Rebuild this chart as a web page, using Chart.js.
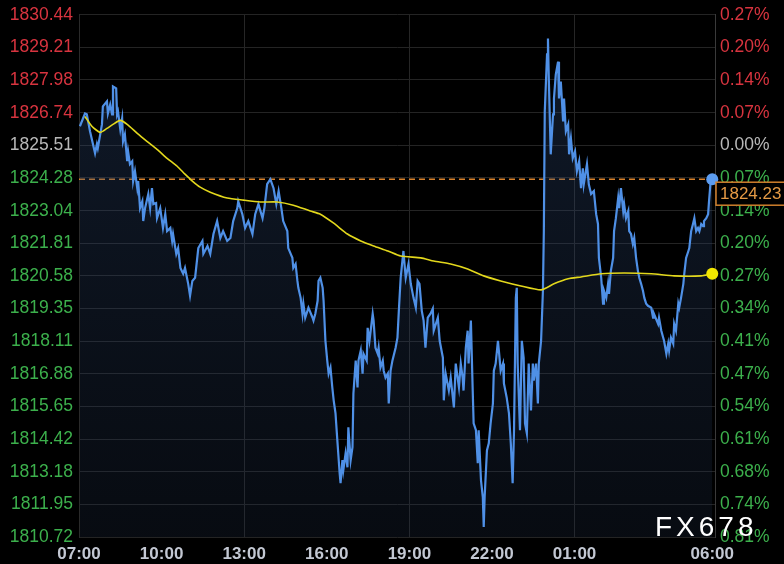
<!DOCTYPE html>
<html>
<head>
<meta charset="utf-8">
<script src="https://cdn.jsdelivr.net/npm/chart.js@4/dist/chart.umd.min.js"></script>
<style>
  html, body { margin: 0; padding: 0; background: #000; }
  canvas { display: block; }
</style>
</head>
<body>
<canvas id="chart" width="784" height="564"></canvas>
<script>
// minutes after 07:00 for each gold quote
const goldTimes = [2,13,17,24,35,39,41,50,52,61,63,68,72,74,81,83,85,90,94,96,100,105,107,111,116,118,122,127,129,133,138,140,144,151,155,159,162,168,170,177,183,188,192,199,203,205,212,216,221,227,231,238,242,247,253,260,269,271,280,286,293,301,308,314,323,330,336,345,347,356,362,369,378,384,391,400,404,410,417,424,430,435,441,445,454,456,465,467,472,476,478,483,487,489,493,500,509,511,515,520,522,526,531,533,537,541,544,548,552,555,559,563,568,570,574,576,581,585,587,592,596,598,603,607,609,614,618,620,627,629,633,640,642,646,651,653,657,662,664,668,673,675,679,683,690,694,697,701,707,712,718,723,729,734,738,742,747,751,755,760,766,771,773,782,786,793,795,799,806,810,817,821,828,832,836,838,843,847,849,854,858,860,865,869,871,876,880,882,884,889,893,897,902,904,908,913,915,919,924,926,932,937,941,945,948,952,954,956,961,965,969,972,976,980,985,989,991,996,1000,1002,1007,1011,1013,1015,1020,1022,1024,1028,1033,1035,1039,1044,1046,1050,1055,1057,1061,1066,1068,1072,1076,1081,1085,1090,1094,1098,1100,1107,1111,1116,1122,1127,1131,1133,1138,1142,1144,1149,1153,1155,1159,1164,1166,1170,1175,1177,1181,1186,1188,1192,1197,1199,1203,1207,1210,1214,1218,1221,1225,1229,1232,1236,1240,1247,1251,1253,1262,1264,1269,1273,1275,1280,1284,1286,1290,1295,1297,1301,1306,1308,1312,1317,1319,1323,1328,1330,1334,1338,1341,1345,1349,1352,1356,1360,1362,1367,1371,1373,1376,1380];
const goldPrices = [1826.23,1826.71,1826.68,1826.04,1825.21,1825.55,1825.40,1826.30,1826.98,1827.17,1826.71,1827.05,1826.68,1827.73,1827.66,1826.68,1826.79,1826.11,1826.53,1825.66,1825.92,1824.91,1825.28,1824.80,1824.91,1824.16,1824.53,1823.89,1824.16,1823.14,1823.40,1822.65,1823.14,1823.67,1823.14,1823.89,1823.29,1823.33,1822.76,1823.14,1822.39,1822.91,1822.27,1822.39,1821.90,1822.16,1821.41,1821.63,1820.88,1820.66,1820.88,1820.28,1819.83,1820.39,1820.51,1821.63,1821.90,1821.41,1821.71,1821.41,1822.16,1822.65,1822.01,1822.27,1821.90,1822.01,1822.65,1823.14,1823.40,1822.91,1822.39,1822.65,1822.16,1822.91,1823.29,1822.76,1823.14,1824.04,1824.23,1823.89,1823.29,1823.78,1823.14,1822.65,1822.27,1821.63,1821.26,1820.88,1821.03,1820.39,1820.13,1819.75,1819.15,1819.53,1819.00,1819.38,1819.00,1818.89,1819.15,1819.64,1820.39,1820.51,1820.13,1819.64,1818.13,1817.38,1816.89,1817.12,1816.37,1815.88,1815.39,1814.37,1813.13,1812.75,1813.62,1813.24,1813.88,1813.35,1814.86,1813.62,1814.11,1816.14,1817.38,1816.37,1817.38,1817.76,1816.89,1817.64,1817.38,1818.62,1818.13,1819.15,1818.89,1817.87,1817.64,1817.87,1817.12,1817.38,1817.00,1816.74,1816.89,1815.76,1817.00,1817.38,1817.87,1818.25,1819.26,1820.51,1821.52,1820.51,1821.03,1820.28,1819.75,1819.38,1820.39,1820.28,1819.26,1818.89,1817.87,1819.00,1819.15,1819.34,1818.51,1819.00,1818.13,1817.49,1815.88,1816.89,1816.25,1816.74,1815.61,1817.27,1816.37,1817.27,1816.74,1816.25,1817.87,1818.51,1817.27,1818.89,1816.25,1815.01,1814.75,1813.51,1814.75,1812.87,1812.23,1811.10,1812.23,1813.99,1814.26,1815.01,1815.76,1817.00,1817.27,1818.13,1817.76,1817.00,1817.27,1816.52,1815.99,1815.39,1814.26,1812.75,1814.75,1819.75,1820.13,1817.27,1814.75,1818.13,1817.49,1815.01,1814.63,1817.27,1815.50,1817.27,1816.63,1817.27,1815.76,1817.27,1818.13,1820.02,1822.27,1826.79,1828.94,1829.54,1827.92,1825.17,1826.68,1827.28,1828.18,1828.67,1827.28,1827.92,1826.41,1827.28,1826.04,1826.30,1825.17,1825.77,1825.02,1825.28,1824.53,1824.91,1823.89,1824.64,1824.04,1824.80,1824.04,1823.67,1823.78,1822.91,1822.54,1821.26,1820.51,1819.53,1820.02,1819.75,1820.28,1819.90,1820.77,1821.26,1822.27,1822.76,1823.52,1823.14,1823.89,1823.03,1823.29,1822.76,1823.03,1822.27,1822.16,1821.78,1822.01,1821.26,1820.77,1820.51,1820.28,1820.02,1819.75,1819.53,1819.45,1819.38,1819.00,1819.15,1818.77,1819.00,1818.51,1818.25,1818.13,1817.64,1818.02,1817.76,1818.25,1818.02,1818.77,1818.51,1819.53,1819.38,1819.75,1820.28,1820.66,1821.26,1821.52,1821.63,1822.27,1822.54,1822.76,1822.27,1822.39,1822.27,1822.54,1822.46,1822.65,1822.76,1822.91,1823.40,1824.04,1824.23];

// moving average line
const maTimes = [13,28,46,61,74,90,105,127,148,170,192,214,231,247,264,286,323,358,395,432,467,504,526,555,585,614,642,673,701,745,773,810,847,882,919,963,1007,1035,1066,1094,1138,1188,1247,1297,1356,1380];
const maPrices = [1826.60,1826.23,1826.00,1826.15,1826.30,1826.45,1826.30,1825.96,1825.66,1825.36,1825.02,1824.72,1824.42,1824.16,1823.93,1823.74,1823.52,1823.44,1823.37,1823.37,1823.25,1823.03,1822.91,1822.57,1822.16,1821.90,1821.71,1821.52,1821.33,1821.26,1821.14,1821.03,1820.84,1820.58,1820.39,1820.20,1820.05,1820.28,1820.47,1820.54,1820.66,1820.69,1820.66,1820.58,1820.58,1820.66];

// axes
const priceTicks = [1810.72,1811.95,1813.18,1814.42,1815.65,1816.88,1818.11,1819.35,1820.58,1821.81,1823.04,1824.28,1825.51,1826.74,1827.98,1829.21,1830.44];
const pctTicks = ['0.81%','0.74%','0.68%','0.61%','0.54%','0.47%','0.41%','0.34%','0.27%','0.20%','0.14%','0.07%','0.00%','0.07%','0.14%','0.20%','0.27%'];
const refPrice = 1825.51;
const timeTicks = [0,180,360,540,720,900,1080,1380];
const timeLabels = ['07:00','10:00','13:00','16:00','19:00','22:00','01:00','06:00'];
const timeGrid = [0,360,720,1080];

const RED = '#d8343f', GREEN = '#3cb04c', GREY = '#b8b8b8';
const FONT = 'Liberation Sans, Arial, sans-serif';

function tickColor(v) {
  if (Math.abs(v - refPrice) < 0.005) return GREY;
  return v > refPrice ? RED : GREEN;
}

const lastPrice = goldPrices[goldPrices.length - 1];

const overlay = {
  id: 'overlay',
  beforeDraw(chart) {
    const c = chart.ctx;
    c.save();
    c.fillStyle = '#000';
    c.fillRect(0, 0, chart.width, chart.height);
    c.restore();
  },
  beforeDatasetsDraw(chart) {
    const c = chart.ctx, a = chart.chartArea;
    const y = chart.scales.y.getPixelForValue(lastPrice);
    c.save();
    c.strokeStyle = '#d9822b';
    c.lineWidth = 1.5;
    c.setLineDash([6, 4]);
    c.beginPath();
    c.moveTo(a.left, y);
    c.lineTo(a.right, y);
    c.stroke();
    c.restore();
  },
  afterDraw(chart) {
    const c = chart.ctx, a = chart.chartArea;
    const y = chart.scales.y.getPixelForValue(lastPrice);
    c.save();
    // last price box
    c.fillStyle = '#000';
    c.fillRect(a.right + 1, y + 3, 80, 23);
    c.strokeStyle = '#cf7f2c';
    c.lineWidth = 1.5;
    c.strokeRect(a.right + 1, y + 3, 80, 23);
    c.fillStyle = '#e59a45';
    c.font = '17px ' + FONT;
    c.textBaseline = 'middle';
    c.fillText(lastPrice.toFixed(2), a.right + 5, y + 15);
    // watermark
    c.fillStyle = '#ffffff';
    c.font = '28px ' + FONT;
    c.letterSpacing = '4px';
    c.fillText('FX678', 655, 528);
    c.restore();
  }
};

const ctx = document.getElementById('chart').getContext('2d');
new Chart(ctx, {
  type: 'line',
  data: {
    datasets: [
      {
        label: 'MA',
        data: maTimes.map((t, i) => ({ x: t, y: maPrices[i] })),
        borderColor: '#e3d81c',
        borderWidth: 1.6,
        fill: false,
        tension: 0.2,
        pointRadius: c => c.dataIndex === maTimes.length - 1 ? 6 : 0,
        pointBackgroundColor: '#f2e600',
        pointBorderWidth: 0,
        clip: 10,
        order: 1
      },
      {
        label: 'Gold',
        data: goldTimes.map((t, i) => ({ x: t, y: goldPrices[i] })),
        borderColor: '#4f90e6',
        borderWidth: 2.2,
        tension: 0,
        fill: 'start',
        backgroundColor: c => {
          const a = c.chart.chartArea;
          if (!a) return 'rgba(30,45,70,0.3)';
          const g = c.chart.ctx.createLinearGradient(0, a.top, 0, a.bottom);
          g.addColorStop(0, 'rgba(50,80,130,0.32)');
          g.addColorStop(1, 'rgba(30,45,70,0.25)');
          return g;
        },
        pointRadius: c => c.dataIndex === goldTimes.length - 1 ? 6 : 0,
        pointBackgroundColor: '#5c9cf0',
        pointBorderWidth: 0,
        clip: 10,
        order: 2
      }
    ]
  },
  options: {
    responsive: false,
    devicePixelRatio: 1,
    animation: false,
    layout: { padding: { top: 0, left: 0, right: 0, bottom: 0 } },
    plugins: { legend: { display: false }, tooltip: { enabled: false } },
    scales: {
      x: {
        type: 'linear',
        min: 0,
        max: 1386,
        afterBuildTicks: s => { s.ticks = timeTicks.map(v => ({ value: v })); },
        afterFit: s => { s.height = 27; },
        ticks: {
          autoSkip: false,
          maxRotation: 0,
          padding: 7,
          color: '#c3c8d3',
          font: { family: FONT, size: 17, weight: 'bold' },
          callback: v => timeLabels[timeTicks.indexOf(v)]
        },
        grid: {
          drawTicks: false,
          color: c => (c.tick && timeGrid.includes(c.tick.value)) ? '#262626' : 'rgba(0,0,0,0)'
        },
        border: { display: false }
      },
      y: {
        position: 'left',
        min: priceTicks[0],
        max: priceTicks[priceTicks.length - 1],
        afterBuildTicks: s => { s.ticks = priceTicks.map(v => ({ value: v })); },
        afterFit: s => { s.width = 79; },
        ticks: {
          padding: 6,
          color: c => tickColor(c.tick.value),
          font: { family: FONT, size: 17.5, lineHeight: 1.0 },
          callback: v => v.toFixed(2)
        },
        grid: { drawTicks: false, color: '#242424' },
        border: { display: true, color: '#2a2a2a' }
      },
      y2: {
        position: 'right',
        min: priceTicks[0],
        max: priceTicks[priceTicks.length - 1],
        afterBuildTicks: s => { s.ticks = priceTicks.map(v => ({ value: v })); },
        afterFit: s => { s.width = 69; },
        ticks: {
          padding: 5,
          color: c => tickColor(c.tick.value),
          font: { family: FONT, size: 17.5, lineHeight: 1.0 },
          callback: (v, i) => pctTicks[i]
        },
        grid: { display: false, drawTicks: false },
        border: { display: true, color: '#3a3a3a', dash: [2, 2] }
      }
    }
  },
  plugins: [overlay]
});
</script>
</body>
</html>
